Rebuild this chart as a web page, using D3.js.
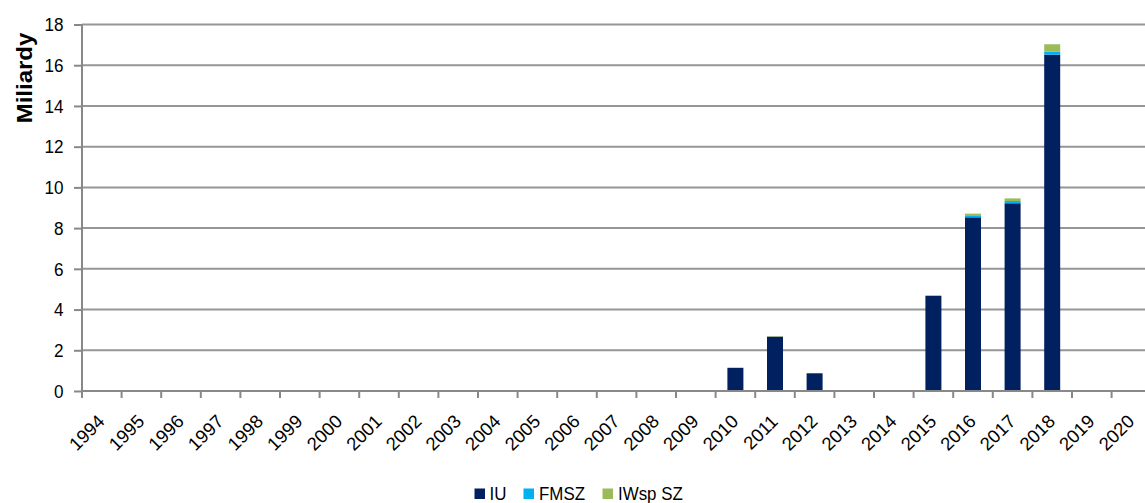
<!DOCTYPE html>
<html><head><meta charset="utf-8">
<script src="https://cdn.jsdelivr.net/npm/d3@7"></script>
<style>body{margin:0;background:#fff}svg{display:block}svg text{font-family:"Liberation Sans",Arial,sans-serif}</style>
</head><body><svg id="c" width="1145" height="503"></svg>
<script>
const years = ["1994","1995","1996","1997","1998","1999","2000","2001","2002","2003","2004","2005","2006","2007","2008","2009","2010","2011","2012","2013","2014","2015","2016","2017","2018","2019","2020"];
const IU    = [0,0,0,0,0,0,0,0,0,0,0,0,0,0,0,0,1.14,2.67,0.87,0,0,4.68,8.53,9.22,16.52,0,0];
const FMSZ  = [0,0,0,0,0,0,0,0,0,0,0,0,0,0,0,0,0,0,0,0,0,0,0.10,0.11,0.15,0,0];
const IWsp  = [0,0,0,0,0,0,0,0,0,0,0,0,0,0,0,0,0,0.02,0,0,0,0,0.08,0.13,0.36,0,0];
const seriesNames = ["IU","FMSZ","IWsp SZ"];
const colors = ["#00205F","#00B0F0","#9BBB59"];
const yTicks = [0,2,4,6,8,10,12,14,16,18];

const SX = 0.9;
const svg = d3.select("#c");
const mLeft = 82, mTop = 24.5, mBottom = 391;
const step = 39.6;
const x = d3.scaleBand().domain(years).range([mLeft, mLeft + step*years.length]).paddingInner(0.6).paddingOuter(0.3);
const y = d3.scaleLinear().domain([0,18]).range([mBottom, mTop]);

// gridlines
svg.append("g").selectAll("line").data(yTicks.slice(1)).join("line")
  .attr("x1", mLeft).attr("x2", 1145).attr("y1", d=>y(d)).attr("y2", d=>y(d))
  .attr("stroke", "#969696").attr("stroke-width", 2);

// stacked bars
const rows = years.map((yr,i)=>({year:yr, IU:IU[i], FMSZ:FMSZ[i], "IWsp SZ":IWsp[i]}));
const stack = d3.stack().keys(seriesNames)(rows);
const bw = 16;
svg.append("g").selectAll("g").data(stack).join("g").attr("fill",(d,i)=>colors[i])
  .selectAll("rect").data(d=>d.filter(p=>p[1]-p[0]>0)).join("rect")
  .attr("x", d=> x(d.data.year) + x.bandwidth()/2 - bw/2)
  .attr("width", bw)
  .attr("y", d=>y(d[1]))
  .attr("height", d=>y(d[0])-y(d[1]));

// y axis
const ya = svg.append("g").attr("transform",`translate(${mLeft},0)`)
  .call(d3.axisLeft(y).tickValues(yTicks).tickSize(8).tickFormat(d3.format("d")));
ya.attr("font-family",null);
ya.select(".domain").attr("stroke","#888").attr("stroke-width",2).attr("d",`M0,${mTop}V${mBottom}`);
ya.selectAll(".tick line").attr("stroke","#888").attr("stroke-width",2);
ya.selectAll(".tick text").style("font-size","19px").attr("fill","#000")
  .attr("x",null).attr("dy",null).attr("text-anchor","end").attr("dominant-baseline","central")
  .attr("transform",`translate(-18.5,0) scale(${SX},1)`);

// x axis
const xa = svg.append("g").attr("transform",`translate(0,${mBottom})`)
  .call(d3.axisBottom(x).tickSize(0).tickFormat(d=>d));
xa.attr("font-family",null);
xa.select(".domain").remove();
xa.append("line").attr("x1",mLeft).attr("x2",1145).attr("stroke","#888").attr("stroke-width",2);
xa.selectAll(".bd").data(d3.range(years.length+1)).join("line").attr("class","bd")
  .attr("x1",i=>mLeft+i*step).attr("x2",i=>mLeft+i*step).attr("y1",0).attr("y2",7)
  .attr("stroke","#888").attr("stroke-width",2);
xa.selectAll(".tick text").style("font-size","18.5px").attr("fill","#000")
  .attr("text-anchor","end").attr("dy",null).attr("dominant-baseline","central")
  .attr("transform", `translate(-0.5,27) rotate(-45)`)
  .attr("y",0).attr("x",0);

// y title
svg.append("text").attr("transform",`translate(31.5,78) scale(${SX},1) rotate(-90)`)
  .attr("text-anchor","middle").attr("font-weight","bold").style("font-size","24px").text("Miliardy");

// legend
const lx = [474.5, 523.5, 602.5];
const tx = [489.5, 539, 618];
const lg = svg.append("g");
seriesNames.forEach((n,i)=>{
  lg.append("rect").attr("x",lx[i]).attr("y",488.5).attr("width",10.5).attr("height",10.5).attr("fill",colors[i]);
  lg.append("text").attr("transform",`translate(${tx[i]},500) scale(0.89,1)`).style("font-size","19px").text(n);
});
</script></body></html>
